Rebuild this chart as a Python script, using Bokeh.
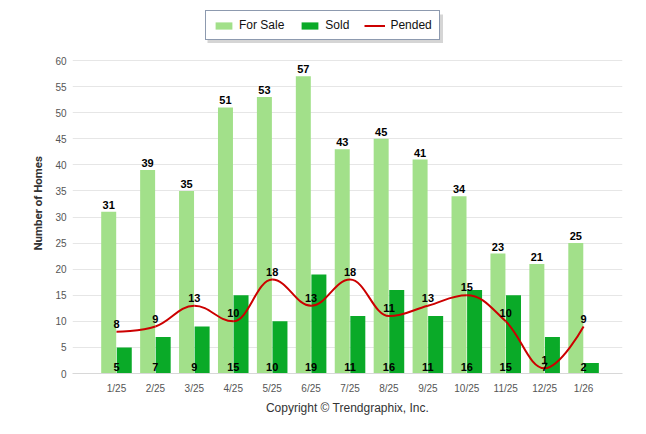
import numpy as np
from bokeh.plotting import figure
from bokeh.models import (Legend, LegendItem, FixedTicker, Range1d, Title,
                          ColumnDataSource, BoxAnnotation)
from bokeh.transform import dodge
from bokeh.core.properties import value
from bokeh.embed import file_html
from bokeh.resources import INLINE

# ---- data ----
months = ["1/25", "2/25", "3/25", "4/25", "5/25", "6/25", "7/25",
          "8/25", "9/25", "10/25", "11/25", "12/25", "1/26"]
for_sale = [31, 39, 35, 51, 53, 57, 43, 45, 41, 34, 23, 21, 25]
sold = [5, 7, 9, 15, 10, 19, 11, 16, 11, 16, 15, 7, 2]
pended = [8, 9, 13, 10, 18, 13, 18, 11, 13, 15, 10, 1, 9]
y_ticks = [0, 5, 10, 15, 20, 25, 30, 35, 40, 45, 50, 55, 60]

FONT = "Liberation Sans"
C_SALE = "#a2e08a"
C_SOLD = "#0aaa28"
C_PEND = "#cc0000"

idx = list(range(len(months)))
src = ColumnDataSource(dict(
    x=idx, for_sale=for_sale, sold=sold, pended=pended,
    fs_t=[str(v) for v in for_sale], so_t=[str(v) for v in sold],
    pe_t=[str(v) for v in pended], zero=[0] * len(idx)))


def spline(xs, ys, smoothing=1.5):
    """Highcharts-style spline control points -> bezier segments."""
    n = len(xs)
    denom = smoothing + 1
    lc = [None] * n
    rc = [None] * n
    for i in range(1, n - 1):
        px, py = xs[i], ys[i]
        lx, ly = xs[i - 1], ys[i - 1]
        nx, ny = xs[i + 1], ys[i + 1]
        lcx = (smoothing * px + lx) / denom
        lcy = (smoothing * py + ly) / denom
        rcx = (smoothing * px + nx) / denom
        rcy = (smoothing * py + ny) / denom
        if rcx != lcx:
            corr = (rcy - lcy) * (rcx - px) / (rcx - lcx) + py - rcy
            lcy += corr
            rcy += corr
        if lcy > ly and lcy > py:
            lcy = max(ly, py); rcy = 2 * py - lcy
        elif lcy < ly and lcy < py:
            lcy = min(ly, py); rcy = 2 * py - lcy
        if rcy > ny and rcy > py:
            rcy = max(ny, py); lcy = 2 * py - rcy
        elif rcy < ny and rcy < py:
            rcy = min(ny, py); lcy = 2 * py - rcy
        lc[i] = (lcx, lcy)
        rc[i] = (rcx, rcy)
    seg = dict(x0=[], y0=[], x1=[], y1=[], cx0=[], cy0=[], cx1=[], cy1=[])
    for i in range(1, n):
        a = rc[i - 1] if rc[i - 1] else (xs[i - 1], ys[i - 1])
        b = lc[i] if lc[i] else (xs[i], ys[i])
        seg["x0"].append(xs[i - 1]); seg["y0"].append(ys[i - 1])
        seg["x1"].append(xs[i]); seg["y1"].append(ys[i])
        seg["cx0"].append(a[0]); seg["cy0"].append(a[1])
        seg["cx1"].append(b[0]); seg["cy1"].append(b[1])
    return seg


# frame geometry (pixels); the frame extends above 60 so that the legend,
# drawn inside the frame, is not clipped
W, H = 638, 426
F_LEFT, F_RIGHT, F_TOP, F_BOTTOM = 72, 622, 4, 373
X0, X1 = -1.13, 13.0
Y1 = 60 * (F_BOTTOM - F_TOP) / (373 - 60)

p = figure(width=W, height=H, output_backend="svg", toolbar_location=None,
           x_range=Range1d(X0, X1), y_range=Range1d(0, Y1),
           min_border_left=F_LEFT, min_border_right=W - F_RIGHT,
           min_border_top=F_TOP, min_border_bottom=H - F_BOTTOM)
p.outline_line_color = None
p.background_fill_color = "white"


def px_x(px):
    return X0 + (px - F_LEFT) * (X1 - X0) / (F_RIGHT - F_LEFT)


def px_y(py):
    return (F_BOTTOM - py) * Y1 / (F_BOTTOM - F_TOP)


r_sale = p.vbar(x=dodge("x", -0.2, range=p.x_range), top="for_sale", width=0.385,
                source=src, fill_color=C_SALE, line_color=None)
r_sold = p.vbar(x=dodge("x", 0.2, range=p.x_range), top="sold", width=0.385,
                source=src, fill_color=C_SOLD, line_color=None)

bz = spline(idx, pended)
p.bezier(source=ColumnDataSource(bz), x0="x0", y0="y0", x1="x1", y1="y1",
         cx0="cx0", cy0="cy0", cx1="cx1", cy1="cy1",
         line_color=C_PEND, line_width=2)
# hidden straight-line renderer of the same series, used only for the legend swatch
r_pend = p.line(x="x", y="pended", source=src, line_color=C_PEND, line_width=2,
                visible=False)

lbl = dict(text_font=value(FONT), text_font_style="bold", text_font_size="11px",
           text_color="black", text_align="center", text_baseline="bottom")
p.text(x=dodge("x", -0.2, range=p.x_range), y="for_sale", text="fs_t",
       source=src, y_offset=-3, **lbl)
p.text(x="x", y="zero", text="so_t", source=src, y_offset=-3, **lbl)
p.text(x="x", y="pended", text="pe_t", source=src, y_offset=-4, **lbl)

# axes
p.xgrid.visible = False
p.ygrid.grid_line_color = "#e6e6e6"
p.xaxis.ticker = FixedTicker(ticks=idx)
p.xaxis.major_label_overrides = {i: m for i, m in zip(idx, months)}
p.xaxis.axis_line_color = "#d8d8d8"
p.xaxis.major_tick_line_color = None
p.xaxis.minor_tick_line_color = None
p.xaxis.major_label_standoff = 3
p.xaxis.major_label_text_font = FONT
p.xaxis.major_label_text_font_size = "10px"
p.xaxis.major_label_text_color = "#555555"

p.yaxis.ticker = FixedTicker(ticks=y_ticks)
p.yaxis.axis_line_color = None
p.yaxis.major_tick_line_color = None
p.yaxis.minor_tick_line_color = None
p.yaxis.major_label_standoff = 0
p.yaxis.major_label_text_font = FONT
p.yaxis.major_label_text_font_size = "10px"
p.yaxis.major_label_text_color = "#555555"

# y-axis title as a vertical title on the left, placed beside the 0..60 span
p.add_layout(Title(text="Number of Homes", align="left", offset=123,
                   text_font="Roboto", text_font_size="11.5px",
                   text_font_style="bold", text_color="#333333",
                   standoff=15), "left")

# legend with a soft shadow box behind it
p.add_layout(BoxAnnotation(left=px_x(207), right=px_x(442.5),
                           top=px_y(14), bottom=px_y(42.5),
                           fill_color="#888888", fill_alpha=0.35,
                           line_color=None, level="annotation"))
leg_kw = dict(orientation="horizontal", glyph_width=21, glyph_height=9,
              label_standoff=5, spacing=15, padding=7, margin=0,
              label_height=12, label_text_font=FONT, label_text_font_size="12px",
              inactive_fill_alpha=0)
legend = Legend(items=[LegendItem(label="For Sale", renderers=[r_sale]),
                       LegendItem(label="Sold", renderers=[r_sold]),
                       LegendItem(label="Pended", renderers=[r_pend])],
                location=(133, 333), border_line_color="#1b355f",
                border_line_width=1.5, background_fill_color="white",
                background_fill_alpha=1, label_text_color="#111111",
                click_policy="none", **leg_kw)
p.add_layout(legend, "center")

p.add_layout(Title(text="Copyright © Trendgraphix, Inc.", align="center",
                   text_font=FONT, text_font_size="12px",
                   text_font_style="normal", text_color="#333333",
                   standoff=5), "below")

open("out.html", "w").write(file_html(p, INLINE))
